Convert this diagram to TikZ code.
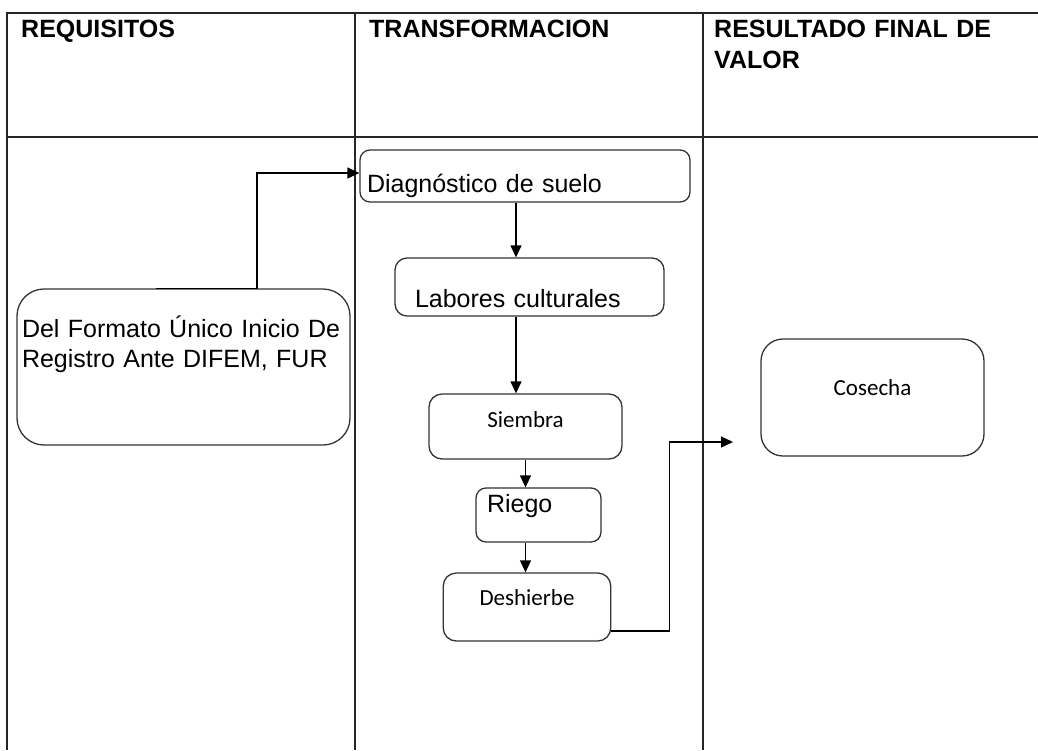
\documentclass[tikz,border=0pt]{standalone}
\usepackage{fontspec}
\setmainfont{Liberation Sans}
\newfontfamily\carlito{Carlito}
\usetikzlibrary{arrows.meta}
\tikzset{
caja/.style={ % Sets the properties for each box
draw=black!80,
line width=1.3pt,
rounded corners=12pt,
inner ysep=3pt,
font=\fontsize{25}{30}\selectfont},
corta/.style={ % Boxes with the smaller text
caja,
align=center,
font=\carlito\fontsize{23}{27}\selectfont},
titulo/.style={ % Column headers
anchor=base west,
inner sep=0pt,
font=\bfseries\fontsize{25}{31}\selectfont},
flecha/.style={ % Sets the properties for each connector
draw,
-{Triangle[length=12pt,width=11pt]}, % Filled arrow tips
line width=1.3pt},
tabla/.style={draw=black!85, line width=1.3pt}}

\begin{document}
\begin{tikzpicture}[x=1pt, y=-1pt]
	\useasboundingbox (0,0) rectangle (1038,750);
	% table
	\draw[tabla] (7,750) -- (7,13) -- (1038,13);
	\draw[tabla] (7,137) -- (1038,137);
	\draw[tabla] (355,13) -- (355,750);
	\draw[tabla] (703,13) -- (703,750);
	\node[titulo] (req) at (21,37) {REQUISITOS};
	\node[titulo] (trans) at (369,37) {TRANSFORMACION};
	\node[titulo, text width=320pt, align=left] (res) at (714,37) {RESULTADO FINAL DE\\VALOR};
	% boxes
	\node[caja, rounded corners=27pt, text width=323pt, inner xsep=5pt, align=left, minimum height=156pt, text height=23pt, text depth=83pt] (fur) at (183.5,367) {Del Formato Único Inicio De\\Registro Ante DIFEM, FUR};
	\node[caja, rounded corners=10pt, text width=316pt, inner xsep=7pt, align=left, minimum height=52pt, text height=32pt, text depth=0pt] (diag) at (525,176) {Diagnóstico de suelo};
	\node[caja, text width=229pt, inner xsep=20pt, align=left, minimum height=58pt, text height=40pt, text depth=0pt] (lab) at (529.5,287) {Labores culturales};
	\node[corta, rounded corners=13pt, minimum width=193pt, minimum height=65pt, text height=10pt, text depth=9pt] (siem) at (525.5,426.5) {Siembra};
	\node[caja, rounded corners=10pt, text width=103pt, inner xsep=11pt, align=left, minimum height=54pt, text height=4pt, text depth=10pt] (riego) at (538.5,515) {Riego};
	\node[corta, rounded corners=13pt, minimum width=167.5pt, minimum height=68pt, text height=8pt, text depth=12pt] (desh) at (527,607) {Deshierbe};
	\node[corta, rounded corners=22pt, minimum width=223pt, minimum height=117pt, text height=8pt, text depth=13pt] (cos) at (872.5,397.5) {Cosecha};
	% connectors
	\coordinate (eje) at (516,0);
	\coordinate (llegada) at (733,442);
	\draw[flecha] ([xshift=-27.5pt]fur.north) -- ([xshift=73.5pt]fur.north) |- ([yshift=3pt]diag.west);
	\draw[flecha] (diag.south -| eje) -- (lab.north -| eje);
	\draw[flecha] (lab.south -| eje) -- (siem.north -| eje);
	\draw[flecha] (siem.south) -- (riego.north -| siem.south);
	\draw[flecha] (riego.south -| siem.south) -- (desh.north -| siem.south);
	\draw[flecha] ([yshift=-24pt]desh.east) -- ++(58,0) |- (llegada);
\end{tikzpicture}
\end{document}
